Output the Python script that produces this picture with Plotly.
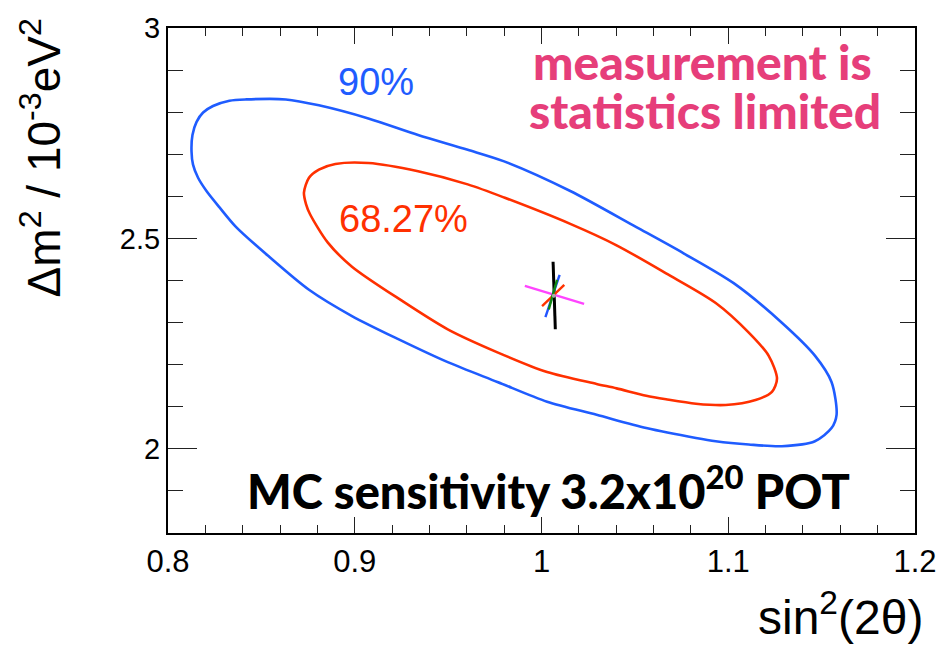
import plotly.graph_objects as go

# ---------------- data ----------------
blue90_x = [0.8126, 0.8131, 0.8153, 0.8188, 0.8241, 0.8329, 0.8418, 0.8631, 0.8808, 0.9073,
            0.9339, 0.9605, 0.9800, 1.0154, 1.0508, 1.0763, 1.1029, 1.1287, 1.1464, 1.1553,
            1.1580, 1.1553, 1.1464, 1.1287, 1.1110, 1.0933, 1.0827, 1.0561, 1.0295, 1.0030,
            0.9764, 0.9498, 0.9233, 0.8985, 0.8755, 0.8542, 0.8365, 0.8276, 0.8206, 0.8161,
            0.8134, 0.8126]
blue90_y = [2.7066, 2.7458, 2.7770, 2.7991, 2.8146, 2.8272, 2.8303, 2.8303, 2.8162, 2.7850,
            2.7458, 2.7106, 2.6831, 2.6127, 2.5268, 2.4641, 2.3937, 2.2998, 2.2216, 2.1589,
            2.0808, 2.0493, 2.0181, 2.0063, 2.0103, 2.0181, 2.0258, 2.0493, 2.0808, 2.1120,
            2.1589, 2.2059, 2.2606, 2.3155, 2.3779, 2.4563, 2.5268, 2.5737, 2.6127, 2.6441,
            2.6754, 2.7066]

red68_x = [0.8728, 0.8755, 0.8808, 0.8896, 0.9073, 0.9339, 0.9605, 0.9800, 1.0154, 1.0402,
           1.0667, 1.0933, 1.1110, 1.1216, 1.1261, 1.1234, 1.1146, 1.0986, 1.0827, 1.0667,
           1.0561, 1.0402, 1.0295, 1.0030, 0.9764, 0.9498, 0.9250, 0.8985, 0.8856, 0.8760,
           0.8739, 0.8728]
red68_y = [2.6089, 2.6441, 2.6636, 2.6770, 2.6793, 2.6596, 2.6284, 2.5972, 2.5345, 2.4836,
           2.4171, 2.3467, 2.2763, 2.2216, 2.1667, 2.1354, 2.1160, 2.1042, 2.1073, 2.1178,
           2.1261, 2.1437, 2.1542, 2.1824, 2.2293, 2.2840, 2.3526, 2.4329, 2.4899, 2.5580,
           2.5815, 2.6089]

# best-fit cross segments (start, end)
seg_names = ["black", "magenta", "blue", "red", "green"]
seg_x = [[1.0062, 1.0074], [0.9911, 1.0228], [1.0097, 1.0021], [1.0122, 1.0003], [1.0083, 1.0039]]
seg_y = [[2.4446, 2.2840], [2.3873, 2.3444], [2.4131, 2.3131], [2.3897, 2.3390], [2.4014, 2.3310]]
seg_colors = ["#000000", "#ff44ff", "#2255ff", "#ff3300", "#118811"]
seg_widths = [3.0, 2.4, 2.4, 2.4, 2.4]
best_x = [1.0066]
best_y = [2.3638]

x_ticks = [0.8, 0.9, 1.0, 1.1, 1.2]
x_ticklabels = ["0.8", "0.9", "1", "1.1", "1.2"]
y_ticks = [2.0, 2.5, 3.0]
y_ticklabels = ["2", "2.5", "3"]

BLUE = "#1f5cff"
RED = "#ff3000"
PINK = "#e63e7a"

fig = go.Figure()
fig.add_trace(go.Scatter(x=blue90_x, y=blue90_y, mode="lines",
                         line=dict(color=BLUE, width=2.6, shape="spline", smoothing=0.8),
                         hoverinfo="skip", showlegend=False))
fig.add_trace(go.Scatter(x=red68_x, y=red68_y, mode="lines",
                         line=dict(color=RED, width=2.6, shape="spline", smoothing=0.8),
                         hoverinfo="skip", showlegend=False))
for sx, sy, c, w in zip(seg_x, seg_y, seg_colors, seg_widths):
    fig.add_trace(go.Scatter(x=sx, y=sy, mode="lines", line=dict(color=c, width=w),
                             hoverinfo="skip", showlegend=False))
fig.add_trace(go.Scatter(x=best_x, y=best_y, mode="markers",
                         marker=dict(color="#aaaaaa", size=4), hoverinfo="skip", showlegend=False))

xtickfont = dict(family="Liberation Sans Narrow, Liberation Sans, Arial, sans-serif", size=31, color="black")
ytickfont = dict(family="Liberation Sans, Arial, sans-serif", size=29, color="black")
fig.update_xaxes(range=[0.8, 1.2], tickvals=x_ticks, ticktext=x_ticklabels,
                 ticks="inside", ticklen=16, tickwidth=1.3, tickcolor="#222",
                 minor=dict(dtick=0.02, ticks="inside", ticklen=8, tickwidth=1.3, tickcolor="#222"),
                 showline=True, linewidth=2.2, linecolor="black", mirror="allticks",
                 showgrid=False, zeroline=False, tickfont=xtickfont)
fig.update_yaxes(range=[1.8, 3.0], tickvals=y_ticks, ticktext=y_ticklabels,
                 ticks="inside", ticklen=29, tickwidth=1.3, tickcolor="#222",
                 minor=dict(dtick=0.1, ticks="inside", ticklen=15, tickwidth=1.3, tickcolor="#222"),
                 showline=True, linewidth=2.2, linecolor="black", mirror="allticks",
                 showgrid=False, zeroline=False, tickfont=ytickfont)

ann = []
ann.append(dict(x=0.9116, y=2.871, xref="x", yref="y", text="90%", showarrow=False,
                font=dict(family="Liberation Sans, Arial", size=38, color=BLUE)))
ann.append(dict(x=0.9259, y=2.547, xref="x", yref="y", text="68.27%", showarrow=False,
                font=dict(family="Liberation Sans, Arial", size=38, color=RED)))
ann.append(dict(x=1.0864, y=2.921, xref="x", yref="y", text="measurement is", showarrow=False,
                font=dict(family="Lato, sans-serif", size=48, weight=900, color=PINK)))
ann.append(dict(x=1.0874, y=2.805, xref="x", yref="y", text="statistics limited", showarrow=False,
                font=dict(family="Lato, sans-serif", size=48, weight=900, color=PINK)))
ann.append(dict(x=1.0035, y=1.908, xref="x", yref="y",
                text="MC sensitivity 3.2x10<sup>20</sup> POT", showarrow=False,
                font=dict(family="Lato, sans-serif", size=47, weight=900, color="black")))
ann.append(dict(x=-0.17, y=1.022, xref="paper", yref="paper", xanchor="center", yanchor="top",
                text="Δm<sup>2</sup> / 10<sup>-3</sup>eV<sup>2</sup>", textangle=-90, showarrow=False,
                font=dict(family="Liberation Sans, Arial", size=46, color="black")))
ann.append(dict(x=1.013, y=-0.16, xref="paper", yref="paper", xanchor="right", yanchor="middle",
                text="sin<sup>2</sup>(2θ)", showarrow=False,
                font=dict(family="Liberation Sans Narrow, Liberation Sans, Arial", size=48, color="black")))

fig.update_layout(width=949, height=648, margin=dict(l=168, r=28, t=22, b=115),
                  paper_bgcolor="white", plot_bgcolor="white", annotations=ann)

fig.write_html("out.html", config={"displayModeBar": False},
               post_script="document.body.style.margin='0px';document.body.style.overflow='hidden';")
